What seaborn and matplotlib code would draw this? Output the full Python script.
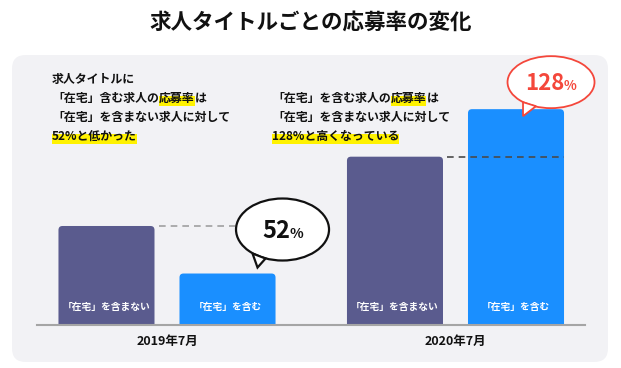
import numpy as np
import pandas as pd
import matplotlib
matplotlib.use("Agg")
import matplotlib.pyplot as plt
import seaborn as sns
from matplotlib.patches import FancyBboxPatch, Ellipse, Polygon, Rectangle
from matplotlib.transforms import IdentityTransform

# ==========================================
# データ
# ==========================================
periods = ["2019年7月", "2020年7月"]
kinds = ["「在宅」を含まない", "「在宅」を含む"]
rate_without = [1.00, 1.70]   # 「在宅」を含まない求人 (相対値)
rate_with = [0.52, 2.18]      # 「在宅」を含む求人 (相対値)
ratio_numbers = ["52", "128"]
kind_colors = ["#5A5B8E", "#1A8FFF"]

title = "求人タイトルごとの応募率の変化"
note_left = [
    [("求人タイトルに", False)],
    [("「在宅」含む求人の", False), ("応募率", True), ("は", False)],
    [("「在宅」を含まない求人に対して", False)],
    [("52%と低かった", True)],
]
note_right = [
    [("「在宅」を含む求人の", False), ("応募率", True), ("は", False)],
    [("「在宅」を含まない求人に対して", False)],
    [("128%と高くなっている", True)],
]

W, H = 621, 368
DPI = 100

sns.set_theme(style="white")
plt.rcParams['font.family'] = ['Noto Sans CJK JP', 'DejaVu Sans']
plt.rcParams['font.weight'] = 'bold'

fig = plt.figure(figsize=(W / DPI, H / DPI), dpi=DPI)
fig.patch.set_facecolor("white")

# 背景パネル
panel = FancyBboxPatch((12 / W, 6 / H), 596 / W, 307 / H,
                       boxstyle="round,pad=0,rounding_size=0.022",
                       mutation_aspect=W / H, transform=fig.transFigure,
                       fc="#F2F2F5", ec="none", zorder=-5)
fig.add_artist(panel)

fig.text(0.5, 1 - 22 / H, title, ha="center", va="center",
         fontsize=15.5, fontweight="bold", color="#111111")

ax = fig.add_axes([37 / W, 43 / H, 548 / W, 270 / H])
ax.patch.set_alpha(0)

df = pd.DataFrame({
    "period": periods * 2,
    "kind": [kinds[0]] * 2 + [kinds[1]] * 2,
    "rate": rate_without + rate_with,
})
sns.barplot(data=df, x="period", y="rate", hue="kind", order=periods,
            hue_order=kinds, palette=kind_colors, saturation=1,
            width=0.839, gap=0.2065, legend=False, ax=ax)

ax.set_xlim(-0.4506, 1.4489)
ax.set_ylim(0, 2.727)
ax.set_xlabel("")
ax.set_ylabel("")
ax.set_yticks([])
for s in ["top", "right", "left"]:
    ax.spines[s].set_visible(False)
ax.spines["bottom"].set_color("#A5A5A5")
ax.spines["bottom"].set_linewidth(1.5)
ax.spines["bottom"].set_zorder(5)
ax.tick_params(axis="x", length=0, pad=7, labelsize=9, colors="#111111")
for lab in ax.get_xticklabels():
    lab.set_fontweight("bold")

# 角丸バーに置き換え
px_x = ax.transData.transform((1, 0))[0] - ax.transData.transform((0, 0))[0]
px_y = ax.transData.transform((0, 1))[1] - ax.transData.transform((0, 0))[1]
r_x = 4 / px_x
aspect = px_x / px_y
bars = {}
for p in list(ax.patches):
    x0, w, h = p.get_x(), p.get_width(), p.get_height()
    c = x0 + w / 2
    pi = int(round(c))
    ki = 0 if c < pi else 1
    fc = p.get_facecolor()
    p.remove()
    rb = FancyBboxPatch((x0, -r_x * aspect * 2), w, h + r_x * aspect * 2,
                        boxstyle=f"round,pad=0,rounding_size={r_x}",
                        mutation_aspect=aspect, fc=fc, ec="none", zorder=2)
    ax.add_patch(rb)
    bars[(pi, ki)] = (x0, w, h)
    ax.annotate(kinds[ki], (c, 0), xytext=(0, 18), textcoords="offset pixels",
                ha="center", va="center", color="white", fontsize=7,
                fontweight="bold", zorder=4)

# 比較用の破線
dash_colors = ["#A0A0A0", "#4A4A4A"]
for pi in range(len(periods)):
    x0, w, h = bars[(pi, 0)]
    x1, w1, _ = bars[(pi, 1)]
    ax.plot([x0 + w + 4 / px_x, x1 + w1], [rate_without[pi]] * 2,
            ls=(0, (4, 3)), lw=1.2, color=dash_colors[pi], zorder=3)

fig.canvas.draw()
renderer = fig.canvas.get_renderer()
ident = IdentityTransform()

# 吹き出し
bubble_cfg = [
    dict(off=(7, 44), size=(93, 62), ec="#111111", tc="#111111",
         tail=[(-30, -24), (-25, -38), (-17, -29)], fs=17, lw=1.6),
    dict(off=(-13, 27), size=(87, 52), ec="#F4473B", tc="#F4473B",
         tail=[(-28, -20), (-28, -34), (-15, -24)], fs=16, lw=1.3),
]
for pi, cfg in enumerate(bubble_cfg):
    x1, w1, h1 = bars[(pi, 1)]
    bx, by = ax.transData.transform((x1 + w1, h1))
    cx, cy = bx + cfg["off"][0], by + cfg["off"][1]
    bw, bh = cfg["size"]
    e = Ellipse((cx, cy), bw, bh, transform=ident, fc="white",
                ec=cfg["ec"], lw=cfg["lw"], zorder=10)
    fig.add_artist(e)
    tail = Polygon([(cx + dx, cy + dy) for dx, dy in cfg["tail"]], closed=True,
                   transform=ident, fc="white", ec=cfg["ec"], lw=cfg["lw"],
                   joinstyle="miter", zorder=11)
    fig.add_artist(tail)
    cover = Ellipse((cx, cy), bw - 4, bh - 4, transform=ident, fc="white",
                    ec="none", zorder=12)
    fig.add_artist(cover)
    base_y = cy - cfg["fs"] * 1.39 * 0.36
    tn = fig.text(0, base_y, ratio_numbers[pi], transform=ident, ha="left",
                  va="baseline", fontsize=cfg["fs"], fontweight="bold",
                  color=cfg["tc"], zorder=13)
    tp = fig.text(0, base_y, "%", transform=ident, ha="left", va="baseline",
                  fontsize=cfg["fs"] * 0.6, fontweight="bold",
                  color=cfg["tc"], zorder=13)
    wn = tn.get_window_extent(renderer).width
    wp = tp.get_window_extent(renderer).width
    gap = -1
    left = cx - (wn + wp + gap) / 2
    tn.set_x(left)
    tp.set_x(left + wn + gap)


# 注釈テキスト (黄色マーカー付き)
def draw_note(lines, x_px, y_list):
    for segs, y_px in zip(lines, y_list):
        x = x_px
        y = H - y_px
        for txt, hl in segs:
            t = fig.text(x, y, txt, transform=ident, ha="left", va="center",
                         fontsize=8.6, fontweight="bold", color="#111111",
                         zorder=3)
            bb = t.get_window_extent(renderer)
            if hl:
                fig.add_artist(Rectangle((x, y - 8), bb.width, 10,
                                         transform=ident, fc="#FFF200",
                                         ec="none", zorder=2))
            x += bb.width


draw_note(note_left, 52, [79, 98, 117, 136])
draw_note(note_right, 272, [98, 117, 136])

fig.savefig("out.png", dpi=DPI, facecolor="white")
